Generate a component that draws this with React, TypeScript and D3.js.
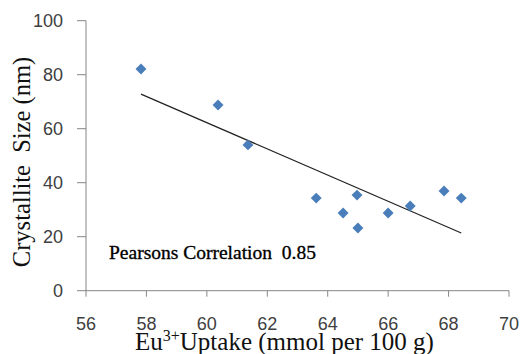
import React from "react";
import * as d3 from "d3";

const uptake = [57.82, 60.37, 61.36, 63.62, 64.51, 64.97, 65.0, 66.0, 66.73, 67.85, 68.42];
const crystalliteSize = [82.1, 68.8, 54.0, 34.3, 28.8, 35.4, 23.2, 28.8, 31.4, 36.9, 34.3];
const xTicks = [56, 58, 60, 62, 64, 66, 68, 70];
const yTicks = [0, 20, 40, 60, 80, 100];

export default function App() {
  const W = 523, H = 354;
  const left = 86, right = 509, top = 20.7, bottom = 290.7;
  const x = d3.scaleLinear().domain([56, 70]).range([left, right]);
  const y = d3.scaleLinear().domain([0, 100]).range([bottom, top]);

  const n = uptake.length;
  const mx = d3.mean(uptake)!;
  const my = d3.mean(crystalliteSize)!;
  let sxy = 0, sxx = 0;
  for (let i = 0; i < n; i++) {
    sxy += (uptake[i] - mx) * (crystalliteSize[i] - my);
    sxx += (uptake[i] - mx) ** 2;
  }
  const slope = sxy / sxx;
  const icpt = my - slope * mx;
  const x0 = d3.min(uptake)!, x1 = d3.max(uptake)!;
  const line = d3.line<number>().x((d) => x(d)).y((d) => y(icpt + slope * d));
  const diamond = d3.symbol().type(d3.symbolDiamond2).size(76)()!;

  const axisColor = "#868686";
  const labelColor = "#404040";
  const sans = "'Liberation Sans', Arial, sans-serif";
  const serif = "'Liberation Serif', 'Times New Roman', serif";

  return (
    <svg width={W} height={H} style={{ position: "absolute", left: 0, top: 0, background: "#fff" }}>
      <rect width={W} height={H} fill="#fff" />
      {/* axes */}
      <line x1={left} x2={left} y1={top} y2={bottom} stroke={axisColor} strokeWidth={1} />
      <line x1={left} x2={right} y1={bottom} y2={bottom} stroke={axisColor} strokeWidth={1} />
      {yTicks.map((t) => (
        <g key={"y" + t}>
          <line x1={left - 9} x2={left} y1={y(t)} y2={y(t)} stroke={axisColor} />
          <text x={63} y={y(t)} dy="0.36em" textAnchor="end" fontFamily={sans} fontSize={18} fill={labelColor}>
            {t}
          </text>
        </g>
      ))}
      {xTicks.map((t) => (
        <g key={"x" + t}>
          <line x1={x(t)} x2={x(t)} y1={bottom} y2={bottom + 6} stroke={axisColor} />
          <text x={x(t)} y={330} textAnchor="middle" fontFamily={sans} fontSize={18} fill={labelColor}>
            {t}
          </text>
        </g>
      ))}
      {/* trendline */}
      <path d={line([x0, x1]) || ""} fill="none" stroke="#222" strokeWidth={1.2} />
      {/* points */}
      {uptake.map((u, i) => (
        <path key={i} d={diamond} transform={`translate(${x(u)},${y(crystalliteSize[i])})`} fill="#4A7EBB" />
      ))}
      {/* annotation */}
      <text x={109} y={259} fontFamily={serif} fontSize={19.5} fill="#000" stroke="#000" strokeWidth={0.35} style={{ whiteSpace: "pre" }}>
        {"Pearsons Correlation  0.85"}
      </text>
      {/* y title */}
      <text
        transform={`translate(30,${162}) rotate(-90)`}
        textAnchor="middle"
        fontFamily={serif}
        fontSize={24.5}
        fill="#111"
        style={{ whiteSpace: "pre" }}
      >
        {"Crystallite  Size (nm)"}
      </text>
      {/* x title */}
      <text x={135} y={350} fontFamily={serif} fontSize={25} fill="#111">
        Eu
        <tspan fontSize={16} dy={-9}>3+</tspan>
        <tspan dy={9}>Uptake (mmol per 100 g)</tspan>
      </text>
    </svg>
  );
}
